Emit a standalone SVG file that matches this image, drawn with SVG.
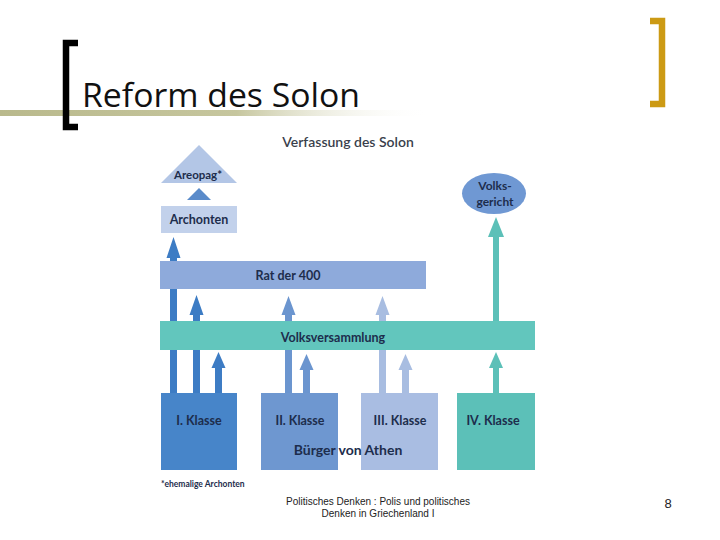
<svg xmlns="http://www.w3.org/2000/svg" width="720" height="540" viewBox="0 0 720 540">
<defs>
<linearGradient id="rule" x1="0" y1="0" x2="1" y2="0">
<stop offset="0" stop-color="#b9b98c"/>
<stop offset="0.55" stop-color="#c6c69e"/>
<stop offset="1" stop-color="#ffffff" stop-opacity="0"/>
</linearGradient>
<style>
.t{font-family:Lato,"Open Sans",sans-serif;font-weight:700;fill:#1d2d4c;text-anchor:middle}
.s{font-size:12.5px}
.foot{font-family:"Liberation Sans",Arial,sans-serif;font-size:10px;fill:#222;text-anchor:middle}
</style>
</defs>
<rect width="720" height="540" fill="#ffffff"/>
<rect x="0" y="110" width="430" height="6" fill="url(#rule)"/>
<path d="M78 43 H66 V127 H78" fill="none" stroke="#000" stroke-width="6.5"/>
<path d="M650 21 H662 V104 H650" fill="none" stroke="#cc9a14" stroke-width="6.5"/>
<text x="82" y="107" font-family="Open Sans, Noto Sans, sans-serif" font-size="32" fill="#111" textLength="278" lengthAdjust="spacingAndGlyphs">Reform des Solon</text>
<text class="t" x="348" y="147" font-size="14" style="fill:#3a3f4c;font-weight:600">Verfassung des Solon</text>
<g id="connectors">
<path d="M170 393 V258 H166.5 L173.5 237 L180.5 258 H177 V393 Z" fill="#3d7cc4"/>
<path d="M193 393 V315 H189.5 L196.5 295 L203.5 315 H200 V393 Z" fill="#3d7cc4"/>
<path d="M215 393 V368 H211.5 L218.5 352 L225.5 368 H222 V393 Z" fill="#3d7cc4"/>
<path d="M285 393 V315 H281.5 L288.5 296 L295.5 315 H292 V393 Z" fill="#6b95cf"/>
<path d="M303 393 V370 H299.5 L306.5 354 L313.5 370 H310 V393 Z" fill="#6b95cf"/>
<path d="M379 393 V315 H375.5 L382.5 296 L389.5 315 H386 V393 Z" fill="#a8bde1"/>
<path d="M402 393 V370 H398.5 L405.5 354 L412.5 370 H409 V393 Z" fill="#a8bde1"/>
<path d="M493 393 V368 H489 L496 352 L503 368 H499 V393 Z" fill="#5cc0b8"/>
<path d="M493 322 V237 H488 L496 217 L504 237 H499 V322 Z" fill="#5cc0b8"/>
<path d="M187 200 L199 188 L211 200 Z" fill="#5a8bca"/>
</g>
<g id="areopag">
<path d="M161 183 L199 145 L237 183 Z" fill="#b3c6e6"/>
<text class="t s" x="198" y="179" style="font-size:11.5px">Areopag*</text>
</g>
<g id="archonten">
<rect x="161" y="206" width="76" height="27" fill="#c2d1eb"/>
<text class="t s" x="199" y="224">Archonten</text>
</g>
<g id="volksgericht">
<ellipse cx="494" cy="193.5" rx="32" ry="20.5" fill="#6f98d3"/>
<text class="t s" x="495" y="190" style="font-size:12px">Volks-</text>
<text class="t s" x="495" y="206" style="font-size:12px">gericht</text>
</g>
<g id="rat">
<rect x="160" y="261" width="266" height="28" fill="#8eaadb"/>
<text class="t s" x="288" y="280">Rat der 400</text>
</g>
<g id="volksversammlung">
<rect x="160" y="321" width="375" height="29" fill="#62c6bd"/>
<text class="t s" x="333" y="342">Volksversammlung</text>
</g>
<g id="klasse1">
<rect x="161" y="393" width="76" height="77" fill="#4785c9"/>
<text class="t s" x="199" y="425">I. Klasse</text>
</g>
<g id="klasse2">
<rect x="261" y="393" width="77" height="77" fill="#6e97d0"/>
<text class="t s" x="300" y="425">II. Klasse</text>
</g>
<g id="klasse3">
<rect x="361" y="393" width="77" height="77" fill="#a9bde2"/>
<text class="t s" x="400" y="425">III. Klasse</text>
</g>
<g id="klasse4">
<rect x="457" y="393" width="78" height="77" fill="#5cc0b8"/>
<text class="t s" x="493" y="425">IV. Klasse</text>
</g>
<text class="t" x="348" y="455" font-size="14">Bürger von Athen</text>
<text class="t" x="161" y="487" font-size="8.5" style="text-anchor:start">*ehemalige Archonten</text>
<text class="foot" x="378" y="505">Politisches Denken : Polis und politisches</text>
<text class="foot" x="378" y="517">Denken in Griechenland I</text>
<text x="668" y="508" font-family="Liberation Sans, Arial, sans-serif" font-size="13" fill="#222" text-anchor="middle">8</text>
</svg>
